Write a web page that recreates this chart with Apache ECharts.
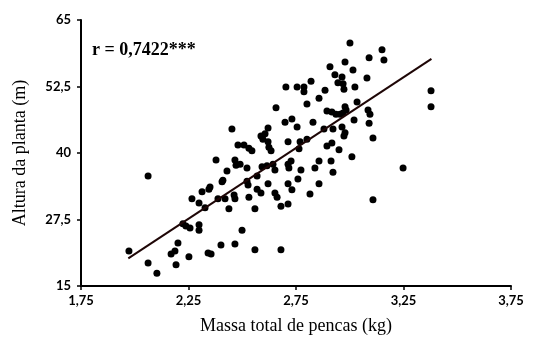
<!DOCTYPE html>
<html>
<head>
<meta charset="utf-8">
<script src="https://cdn.jsdelivr.net/npm/echarts@6/dist/echarts.min.js"></script>
<style>
  html, body { margin: 0; padding: 0; background: #fff; }
  #chart { width: 533px; height: 341px; }
</style>
</head>
<body>
<div id="chart"></div>
<script>
// massa total de pencas (kg)
const massa = [
  1.973, 2.062, 2.062, 2.103, 2.169, 2.187, 2.192, 2.201, 2.224, 2.238,
  2.252, 2.257, 2.266, 2.299, 2.299, 2.299, 2.313, 2.327, 2.341, 2.355,
  2.345, 2.350, 2.378, 2.387, 2.401, 2.406, 2.410, 2.420, 2.429, 2.438,
  2.452, 2.462, 2.466, 2.466, 2.466, 2.471, 2.480, 2.490, 2.508, 2.531,
  2.545, 2.499, 2.522, 2.522, 2.527, 2.531, 2.559, 2.559, 2.569, 2.569,
  2.587, 2.587, 2.606, 2.596, 2.592, 2.615, 2.620, 2.620, 2.624, 2.634,
  2.643, 2.652, 2.620, 2.652, 2.662, 2.657, 2.680, 2.680, 2.699, 2.703,
  2.713, 2.713, 2.717, 2.713, 2.713, 2.727, 2.731, 2.731, 2.755, 2.755,
  2.764, 2.769, 2.773, 2.759, 2.787, 2.787, 2.801, 2.801, 2.815, 2.820,
  2.829, 2.838, 2.857, 2.857, 2.857, 2.885, 2.880, 2.894, 2.894, 2.917,
  2.908, 2.913, 2.917, 2.922, 2.922, 2.931, 2.936, 2.945, 2.950, 2.955,
  2.964, 2.964, 2.969, 2.969, 2.973, 2.978, 2.978, 2.983, 2.978, 2.973,
  3.001, 3.010, 3.015, 3.020, 3.024, 3.034, 3.080, 3.090, 3.085, 3.094,
  3.090, 3.108, 3.108, 3.150, 3.159, 3.248, 3.378, 3.378
]
// altura da planta (m)
const altura = [
  21.6, 35.7, 19.3, 17.4, 21.0, 21.6, 19.0, 23.1, 26.7, 26.3,
  20.5, 25.9, 31.4, 30.6, 26.5, 25.5, 32.7, 29.7, 21.2, 21.0,
  33.2, 33.6, 38.7, 31.4, 22.7, 34.6, 34.9, 31.4, 36.6, 29.5,
  44.5, 32.1, 38.7, 31.4, 22.9, 37.7, 41.5, 37.9, 41.5, 40.9,
  40.4, 25.5, 37.2, 34.7, 34.0, 31.7, 29.5, 21.8, 35.7, 33.2,
  32.5, 43.2, 43.6, 42.6, 37.4, 37.6, 44.7, 42.1, 41.1, 40.4,
  37.9, 36.8, 34.2, 32.5, 31.7, 48.5, 30.0, 21.8, 45.8, 52.4,
  42.1, 37.9, 37.2, 34.2, 30.4, 38.5, 46.4, 33.1, 52.4, 44.9,
  40.8, 42.1, 36.8, 35.1, 52.4, 51.5, 49.2, 42.6, 32.3, 53.5,
  45.8, 37.2, 50.3, 38.5, 34.2, 51.8, 44.5, 47.9, 41.3, 41.9,
  56.2, 38.5, 47.7, 44.5, 36.4, 54.7, 47.3, 53.2, 40.6, 47.3,
  54.3, 44.9, 53.0, 47.5, 52.0, 57.1, 48.7, 48.1, 43.8, 43.2,
  60.7, 39.3, 55.6, 46.2, 52.4, 49.6, 54.1, 57.9, 48.1, 47.3,
  45.6, 42.8, 31.2, 59.4, 57.5, 37.2, 51.7, 48.7
]
// reta de regressão (extremos)
const trendX = [1.97, 3.38]
const trendY = [20.2, 57.7]

const xTicks = [1.75, 2.25, 2.75, 3.25, 3.75]
const yTicks = [15, 27.5, 40, 52.5, 65]

const comma = v => String(v).replace('.', ',')

const chart = echarts.init(document.getElementById('chart'))

const axisCommon = {
    type: 'value',
    splitLine: { show: false },
    axisLine: { show: true, onZero: false, lineStyle: { color: '#000', width: 2 } },
    axisTick: { show: true, length: 4, lineStyle: { color: '#000', width: 1.5 } },
    axisLabel: {
        color: '#000',
        fontFamily: 'Lato',
        fontWeight: 'bold',
        fontSize: 13,
        formatter: comma
    },
    nameLocation: 'middle',
    nameTextStyle: { color: '#000', fontFamily: 'Liberation Serif', fontSize: 18 }
}

const options = {
    animation: false,
    grid: { left: 81, right: 22, top: 20, bottom: 55 },
    xAxis: {
        ...axisCommon,
        min: 1.75,
        max: 3.75,
        name: 'Massa total de pencas (kg)',
        nameGap: 31,
        axisTick: { ...axisCommon.axisTick, customValues: xTicks },
        axisLabel: { ...axisCommon.axisLabel, margin: 8, customValues: xTicks }
    },
    yAxis: {
        ...axisCommon,
        min: 15,
        max: 65,
        name: 'Altura da planta (m)',
        nameGap: 52,
        axisTick: { ...axisCommon.axisTick, customValues: yTicks },
        axisLabel: { ...axisCommon.axisLabel, margin: 10, customValues: yTicks }
    },
    graphic: [
        {
            type: 'text',
            left: 92,
            top: 41,
            style: {
                text: 'r = 0,7422***',
                font: 'bold 18px "Liberation Serif"',
                fill: '#000'
            }
        }
    ],
    series: [
        {
            type: 'scatter',
            symbolSize: 7,
            itemStyle: { color: '#000', opacity: 1 },
            data: massa.map((m, i) => [m, altura[i]])
        },
        {
            type: 'line',
            symbol: 'none',
            lineStyle: { color: '#1e0606', width: 2 },
            z: 3,
            data: trendX.map((x, i) => [x, trendY[i]])
        }
    ]
}

chart.setOption(options)
</script>
</body>
</html>
